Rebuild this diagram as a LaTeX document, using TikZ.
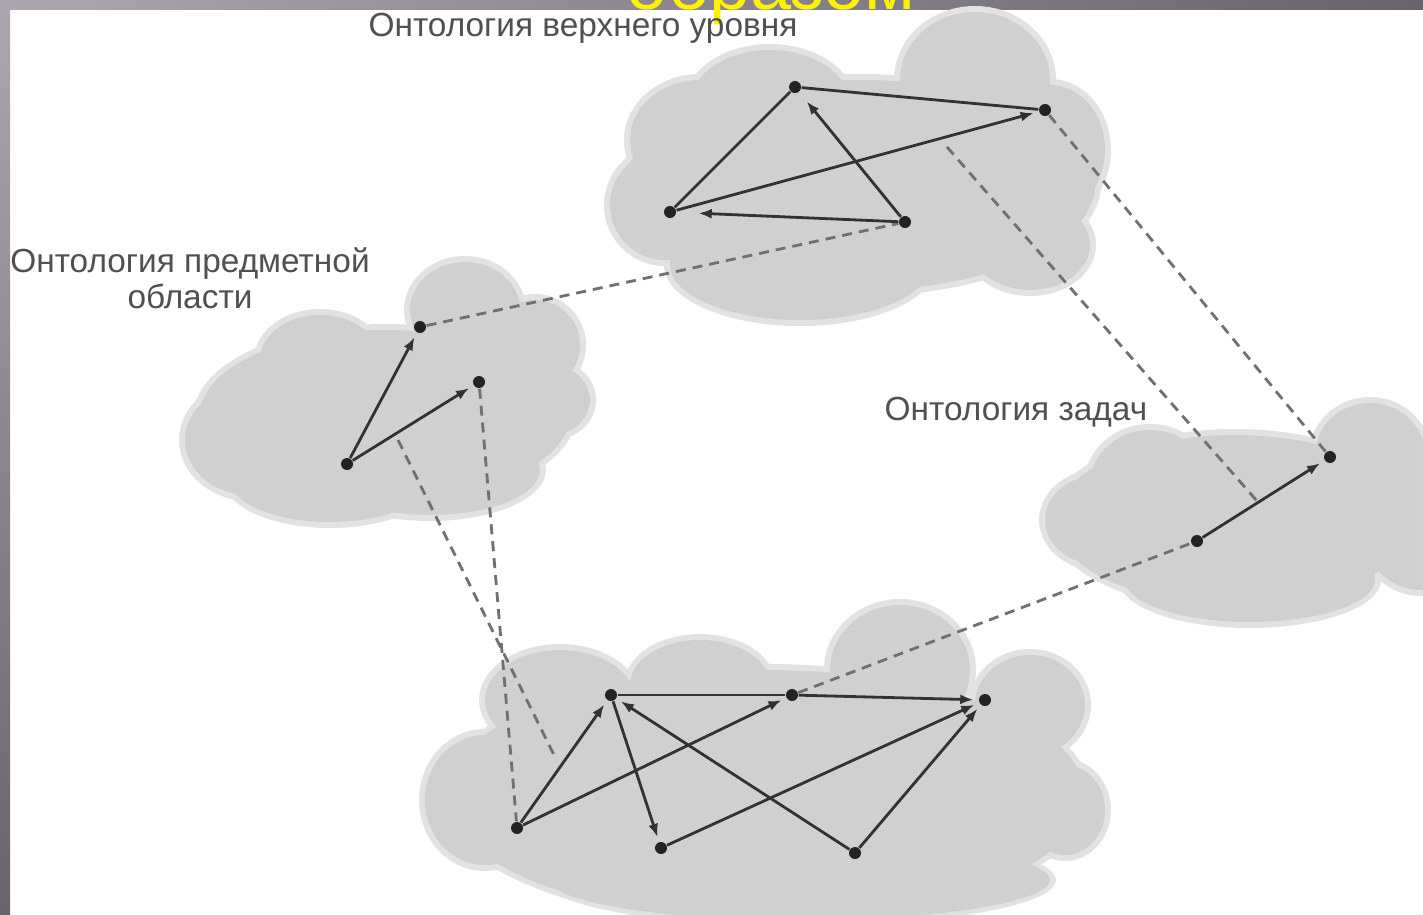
\documentclass[tikz,border=0pt]{standalone}
\usepackage{fontspec}
\setmainfont{Liberation Sans}
\usetikzlibrary{calc,arrows.meta}

\definecolor{cloudgray}{RGB}{208,208,208}
\definecolor{cloudrim}{RGB}{226,226,226}
\definecolor{inkgray}{RGB}{50,50,50}
\definecolor{dashgray}{RGB}{112,112,112}
\definecolor{labelgray}{RGB}{80,80,80}
\definecolor{slidelight}{RGB}{172,166,176}
\definecolor{slidedark}{RGB}{104,99,108}

\begin{document}
\begin{tikzpicture}[x=0.01cm, y=-0.01cm,
	dot/.style={circle, fill=inkgray!70!black, inner sep=0pt, minimum size=0.12cm},
	link/.style={draw=inkgray, line width=0.8pt},
	arrowlink/.style={link, -{Latex[length=0.13cm,width=0.1cm]}, shorten >=0.05cm},
	dashlink/.style={draw=dashgray, line width=0.8pt, dash pattern=on 0.1cm off 0.07cm},
	caption/.style={text=labelgray, font=\fontsize{9.5}{10.2}\selectfont, align=center, inner sep=0pt, anchor=base}]

	% ---- page

	\clip (0,0) rectangle (1423,915);
	\fill[white] (0,0) rectangle (1423,915);
	\shade[top color=slidelight, bottom color=slidedark] (0,0) rectangle (10,915);
	\shade[left color=slidelight, right color=slidedark] (0,0) rectangle (1423,9);

	% ---- clouds (x/y/x radius/y radius)

	\def\cloudlobes{
		860/185/235/105, 975/80/75/68, 770/105/80/55, 1050/150/55/65,
		800/265/130/55, 665/205/55/55, 1030/245/60/45, 700/140/70/60,
		385/415/185/85, 465/310/55/48, 535/345/45/45, 250/440/65/55,
		330/480/100/42, 320/360/60/45, 550/400/40/35, 430/470/110/45,
		1235/520/180/85, 1370/455/55/52, 1250/580/125/42, 1150/485/60/55,
		1420/520/60/70, 1100/520/55/45,
		765/795/320/125, 900/670/70/65, 1030/705/55/50, 560/700/75/50,
		700/685/70/45, 485/800/60/65, 1065/810/40/45, 800/880/250/40}

	\foreach \cx/\cy/\rx/\ry in \cloudlobes {
		\fill[cloudrim] (\cx,\cy) ellipse [x radius=\rx+6, y radius=\ry+6];
	}
	\foreach \cx/\cy/\rx/\ry in \cloudlobes {
		\fill[cloudgray] (\cx,\cy) ellipse [x radius=\rx, y radius=\ry];
	}

	% ---- labels

	\node[text=yellow, font=\fontsize{21}{21}\selectfont, anchor=base, inner sep=0pt] (title) at (771,9) {образом};

	\node[caption] (upperlabel) at (583,36) {Онтология верхнего уровня};
	\node[caption] (domainlabel) at (190,308) {Онтология предметной\\области};
	\node[caption] (tasklabel) at (1016,420) {Онтология задач};

	% ---- concepts

	\foreach \name/\px/\py in {T1/795/87, T2/1045/110, T3/670/212, T4/905/222,
		L1/420/327, L2/479/382, L3/347/464,
		R1/1197/541, R2/1330/457,
		B1/517/828, B2/611/695, B3/792/695, B4/985/700, B5/661/848, B6/855/853} {
		\node[dot] (\name) at (\px,\py) {};
	}

	% ---- mappings between ontologies

	\coordinate (Tfoot) at (947,147);
	\coordinate (Rfoot) at ($(R1)!0.46!(R2)$);
	\coordinate (Lfoot) at (398,440);
	\coordinate (Bfoot) at (555,757);

	\draw[dashlink] (T2) -- (R2);
	\draw[dashlink] (Tfoot) -- (Rfoot);
	\draw[dashlink] (L1) -- (T4);
	\draw[dashlink] (Lfoot) -- (Bfoot);
	\draw[dashlink] (L2) -- (B1);
	\draw[dashlink] (B3) -- (R1);

	% ---- upper level

	\draw[link] (T3) -- (T1) -- (T2);
	\draw[arrowlink] (T3) -- (T2);
	\draw[arrowlink, shorten >=0.12cm] (T4) -- (T1);
	\draw[arrowlink, shorten >=0.22cm] (T4) -- (T3);

	% ---- domain

	\draw[arrowlink] (L3) -- (L1);
	\draw[arrowlink] (L3) -- (L2);

	% ---- tasks

	\draw[arrowlink] (R1) -- (R2);

	% ---- application

	\draw[arrowlink] (B1) -- (B2);
	\draw[arrowlink] (B1) -- (B3);
	\draw[link] (B2) -- (B3);
	\draw[arrowlink] (B3) -- (B4);
	\draw[arrowlink] (B2) -- (B5);
	\draw[arrowlink] (B6) -- (B2);
	\draw[arrowlink] (B5) -- (B4);
	\draw[arrowlink] (B6) -- (B4);

\end{tikzpicture}
\end{document}
